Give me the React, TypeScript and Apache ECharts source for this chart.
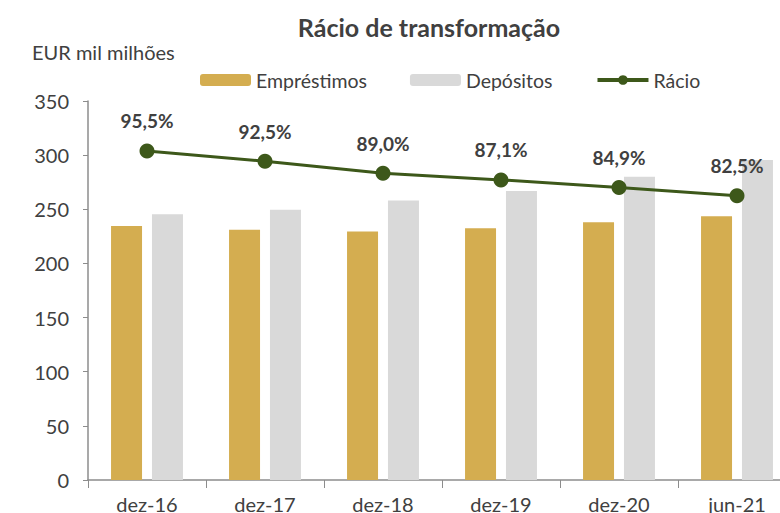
import React, { useEffect, useRef } from "react";
import * as echarts from "echarts";

const categories = ["dez-16", "dez-17", "dez-18", "dez-19", "dez-20", "jun-21"];
const emprestimos = [234.5, 231, 229.5, 232.5, 238, 243.5];
const depositos = [245.5, 249.5, 258, 267, 280, 295.5];
const racio = [95.5, 92.5, 89.0, 87.1, 84.9, 82.5];

const FONT = "Lato";
const TEXT = "#404040";
const GREEN = "#3D581A";

export default function App() {
  const ref = useRef<HTMLDivElement>(null);
  useEffect(() => {
    if (!ref.current) return;
    const chart = echarts.init(ref.current, null, { renderer: "svg" });
    chart.setOption({
      animation: false,
      backgroundColor: "#ffffff",
      textStyle: { fontFamily: FONT },
      title: {
        text: "Rácio de transformação",
        left: 424,
        textAlign: "center",
        top: 9,
        textStyle: { fontFamily: FONT, fontSize: 25, fontWeight: "bold", color: TEXT },
      },
      graphic: [
        {
          type: "text",
          left: 32,
          top: 42,
          style: { text: "EUR mil milhões", font: `20px ${FONT}`, fill: TEXT },
        },
      ],
      legend: {
        left: 195,
        top: 65,
        itemWidth: 51,
        itemHeight: 12,
        itemGap: 43,
        textStyle: { fontFamily: FONT, fontSize: 19.5, color: TEXT, padding: [0, 0, 0, 0] },
        data: [
          { name: "Empréstimos" },
          { name: "Depósitos" },
          { name: "Rácio", itemStyle: { color: GREEN }, lineStyle: { width: 4, color: GREEN } },
        ],
      },
      grid: {
        left: 88,
        top: 101,
        bottom: 33,
        right: -16,
        outerBoundsMode: "none",
        containLabel: false,
      },
      xAxis: {
        type: "category",
        data: categories,
        axisLine: { lineStyle: { color: "#8C8C8C", width: 1.5 } },
        axisTick: { show: true, length: 8, lineStyle: { color: "#8C8C8C" } },
        axisLabel: { color: TEXT, fontSize: 20, fontFamily: FONT, margin: 14 },
      },
      yAxis: [
        {
          type: "value",
          min: 0,
          max: 350,
          interval: 50,
          splitLine: { show: false },
          axisLine: { show: true, lineStyle: { color: "#8C8C8C", width: 1.5 } },
          axisTick: { show: true, length: 5, lineStyle: { color: "#8C8C8C" } },
          axisLabel: { color: TEXT, fontSize: 20, fontFamily: FONT, margin: 19 },
        },
        {
          type: "value",
          min: 0,
          max: 110,
          show: false,
          splitLine: { show: false },
        },
      ],
      series: [
        {
          name: "Empréstimos",
          type: "bar",
          data: emprestimos,
          barWidth: 31,
          barGap: "32%",
          itemStyle: { color: "#D4AD50" },
        },
        {
          name: "Depósitos",
          type: "bar",
          data: depositos,
          barWidth: 31,
          barGap: "32%",
          itemStyle: { color: "#D9D9D9" },
        },
        {
          name: "Rácio",
          type: "line",
          yAxisIndex: 1,
          data: racio,
          symbol: "circle",
          symbolSize: 15,
          lineStyle: { color: GREEN, width: 3 },
          itemStyle: { color: GREEN },
          label: {
            show: true,
            position: "top",
            distance: 13,
            formatter: (p: any) => p.value.toFixed(1).replace(".", ",") + "%",
            color: TEXT,
            fontSize: 19,
            fontWeight: "bold",
            fontFamily: FONT,
          },
          z: 5,
        },
      ],
    });
    return () => chart.dispose();
  }, []);
  return (
    <div
      ref={ref}
      style={{ position: "fixed", left: 0, top: 0, width: 780, height: 513 }}
    />
  );
}
